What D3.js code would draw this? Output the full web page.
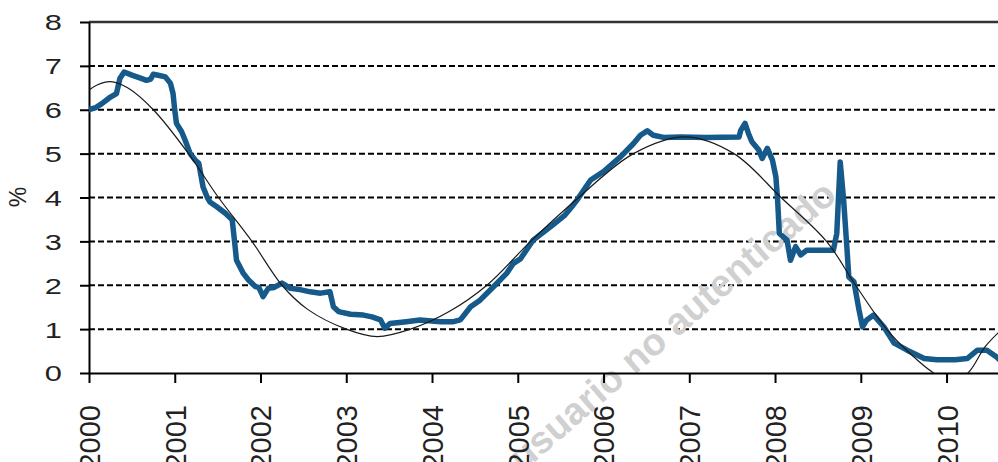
<!DOCTYPE html>
<html>
<head>
<meta charset="utf-8">
<script src="https://cdnjs.cloudflare.com/ajax/libs/d3/7.8.5/d3.min.js"></script>
<style>
    body { margin: 0; background: #fff; }
    svg { display: block; font-family: "Liberation Sans", Arial, sans-serif; }
</style>
</head>
<body>
<div id="chart"></div>
<script>
// observed rate (thick blue line), decimal years
const rateDates = [
    2000.00, 2000.08, 2000.15, 2000.25, 2000.32, 2000.36, 2000.41, 2000.50, 2000.60, 2000.67,
    2000.72, 2000.75, 2000.82, 2000.89, 2000.95, 2000.98, 2001.00, 2001.02, 2001.08, 2001.12,
    2001.18, 2001.24, 2001.28, 2001.33, 2001.38, 2001.41, 2001.49, 2001.59, 2001.67, 2001.70,
    2001.72, 2001.80, 2001.86, 2001.94, 2001.98, 2002.03, 2002.09, 2002.16, 2002.25, 2002.35,
    2002.46, 2002.58, 2002.70, 2002.81, 2002.85, 2002.91, 2003.05, 2003.20, 2003.30, 2003.40,
    2003.45, 2003.51, 2003.70, 2003.86, 2004.10, 2004.25, 2004.33, 2004.45, 2004.56, 2004.72,
    2004.87, 2004.95, 2005.03, 2005.18, 2005.38, 2005.55, 2005.63, 2005.69, 2005.85, 2006.00,
    2006.20, 2006.35, 2006.43, 2006.51, 2006.58, 2006.70, 2006.90, 2007.20, 2007.58, 2007.60,
    2007.65, 2007.69, 2007.73, 2007.81, 2007.85, 2007.91, 2007.97, 2008.01, 2008.03, 2008.05,
    2008.14, 2008.18, 2008.24, 2008.30, 2008.37, 2008.45, 2008.68, 2008.72, 2008.76, 2008.80,
    2008.84, 2008.86, 2008.92, 2008.98, 2009.02, 2009.07, 2009.15, 2009.27, 2009.39, 2009.54,
    2009.74, 2009.89, 2010.10, 2010.24, 2010.36, 2010.47, 2010.58, 2010.62
];
const rateValues = [
    6.00, 6.05, 6.14, 6.29, 6.37, 6.71, 6.86, 6.79, 6.72, 6.67,
    6.70, 6.81, 6.78, 6.75, 6.60, 6.37, 5.99, 5.69, 5.50, 5.31,
    5.00, 4.85, 4.78, 4.24, 4.00, 3.90, 3.79, 3.64, 3.49, 2.95,
    2.57, 2.27, 2.12, 1.97, 1.95, 1.74, 1.93, 1.95, 2.05, 1.93,
    1.90, 1.85, 1.82, 1.85, 1.51, 1.40, 1.34, 1.32, 1.28, 1.21,
    1.02, 1.13, 1.17, 1.21, 1.17, 1.17, 1.21, 1.51, 1.66, 1.97,
    2.27, 2.50, 2.60, 3.03, 3.33, 3.60, 3.79, 3.94, 4.40, 4.59,
    4.93, 5.23, 5.42, 5.52, 5.42, 5.37, 5.38, 5.37, 5.38, 5.53,
    5.69, 5.46, 5.27, 5.08, 4.89, 5.12, 4.85, 4.47, 3.94, 3.18,
    3.03, 2.57, 2.88, 2.69, 2.80, 2.80, 2.80, 3.18, 4.81, 3.94,
    2.80, 2.19, 2.08, 1.43, 1.05, 1.21, 1.32, 1.05, 0.68, 0.52,
    0.33, 0.30, 0.30, 0.33, 0.52, 0.52, 0.37, 0.30
];

// fitted trend (thin black curve)
const trendDates = [
    2000.00, 2000.10, 2000.25, 2000.45, 2000.75, 2001.16, 2001.51, 2001.90, 2002.25, 2002.55,
    2003.00, 2003.36, 2003.75, 2004.20, 2004.64, 2005.15, 2005.71, 2006.35, 2006.95, 2007.52,
    2008.07, 2008.60, 2008.94, 2009.30, 2009.60, 2009.85, 2010.05, 2010.25, 2010.45, 2010.62
];
const trendValues = [
    6.45, 6.57, 6.64, 6.50, 6.00, 5.00, 4.00, 3.00, 2.00, 1.45,
    1.00, 0.83, 1.00, 1.40, 2.00, 3.00, 4.00, 5.00, 5.38, 5.00,
    4.00, 3.00, 2.00, 1.00, 0.40, 0.00, -0.20, 0.00, 0.60, 0.95
];

const yearTicks = [2000, 2001, 2002, 2003, 2004, 2005, 2006, 2007, 2008, 2009, 2010];
const percentTicks = [0, 1, 2, 3, 4, 5, 6, 7, 8];
const watermarkText = 'usuario no autenticado';

const W = 998, H = 462;
const margin = { top: 22, right: 0, bottom: 89, left: 89 };

const svg = d3.select('#chart').append('svg').attr('width', W).attr('height', H);

const x = d3.scaleLinear().domain([2000, 2010.6]).range([margin.left, W - margin.right]);
const y = d3.scaleLinear().domain([0, 8]).range([H - margin.bottom, margin.top]);

svg.append('defs').append('clipPath').attr('id', 'plot')
    .append('rect')
    .attr('x', margin.left).attr('y', margin.top)
    .attr('width', W - margin.left).attr('height', y(0) - margin.top);

// dashed gridlines 1..7
svg.append('g').selectAll('line')
    .data(percentTicks.filter(d => d > 0 && d < 8))
    .enter().append('line')
    .attr('x1', margin.left).attr('x2', W)
    .attr('y1', d => y(d)).attr('y2', d => y(d))
    .attr('stroke', '#000').attr('stroke-width', 2)
    .attr('stroke-dasharray', '6,3');

// top border
svg.append('line')
    .attr('x1', margin.left).attr('x2', W)
    .attr('y1', y(8)).attr('y2', y(8))
    .attr('stroke', '#333').attr('stroke-width', 2.4);

// watermark
svg.append('text')
    .attr('transform', 'translate(672,325) rotate(-41)')
    .attr('text-anchor', 'middle')
    .attr('dy', '0.35em')
    .attr('font-size', 38)
    .attr('font-weight', 'bold')
    .attr('fill', '#d0d0d0')
    .text(watermarkText);

// y axis
const yAxis = svg.append('g')
    .attr('transform', `translate(${margin.left},0)`)
    .call(d3.axisLeft(y).tickValues(percentTicks).tickSize(9).tickSizeOuter(0).tickFormat(d3.format('d')));
yAxis.select('.domain').attr('stroke', '#000').attr('stroke-width', 2);
yAxis.selectAll('.tick line').attr('stroke', '#000').attr('stroke-width', 2);
yAxis.selectAll('.tick text')
    .attr('font-size', 22)
    .attr('fill', '#222')
    .attr('font-family', '"Liberation Sans", Arial, sans-serif')
    .attr('x', -27 / 1.4)
    .attr('dy', '0.36em')
    .attr('transform', 'scale(1.4,1)');

// x axis
const xAxis = svg.append('g')
    .attr('transform', `translate(0,${y(0)})`)
    .call(d3.axisBottom(x).tickValues(yearTicks).tickSize(10).tickSizeOuter(0).tickFormat(d3.format('d')));
xAxis.select('.domain').attr('stroke', '#000').attr('stroke-width', 2);
xAxis.selectAll('.tick line').attr('stroke', '#000').attr('stroke-width', 2);
xAxis.selectAll('.tick text')
    .attr('font-size', 29)
    .attr('fill', '#222')
    .attr('font-family', '"Liberation Sans", Arial, sans-serif')
    .attr('text-anchor', 'end')
    .attr('x', 0).attr('y', 0)
    .attr('dy', '0.36em')
    .attr('transform', 'translate(0,32) rotate(-90)');

// y label
svg.append('text')
    .attr('transform', 'translate(18,197) rotate(-90)')
    .attr('text-anchor', 'middle')
    .attr('dy', '0.35em')
    .attr('font-size', 23)
    .attr('fill', '#222')
    .text('%');

// rate line
const rate = rateDates.map((d, i) => ({ t: d, v: rateValues[i] }));
svg.append('path')
    .datum(rate)
    .attr('clip-path', 'url(#plot)')
    .attr('fill', 'none')
    .attr('stroke', '#155a8a')
    .attr('stroke-width', 5.5)
    .attr('stroke-linejoin', 'round')
    .attr('stroke-linecap', 'round')
    .attr('d', d3.line().x(d => x(d.t)).y(d => y(d.v)));

// trend curve
const trend = trendDates.map((d, i) => ({ t: d, v: trendValues[i] }));
svg.append('path')
    .datum(trend)
    .attr('clip-path', 'url(#plot)')
    .attr('fill', 'none')
    .attr('stroke', '#1a1a1a')
    .attr('stroke-width', 1.2)
    .attr('d', d3.line().x(d => x(d.t)).y(d => y(d.v)).curve(d3.curveCatmullRom.alpha(0.5)));
</script>
</body>
</html>
